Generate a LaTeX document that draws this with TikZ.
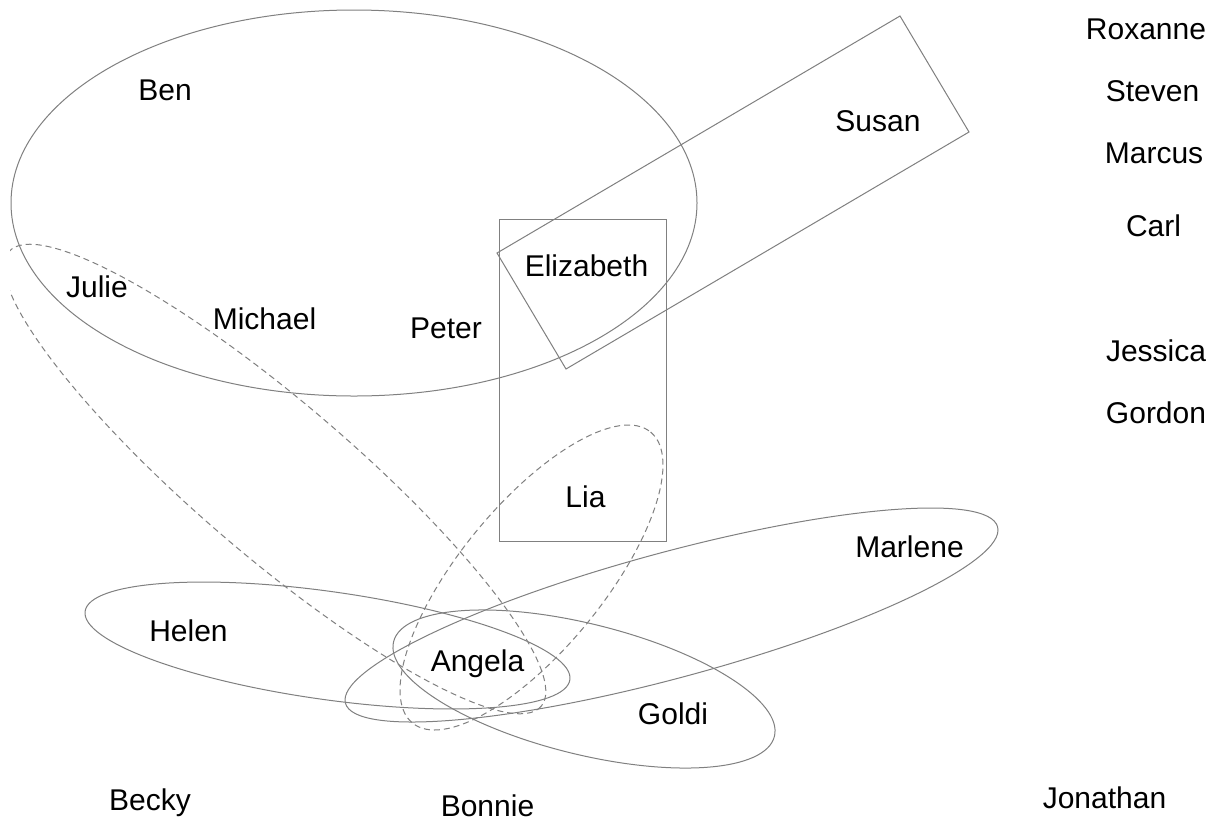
\documentclass[tikz,border=0pt]{standalone}
\usepackage{fontspec}
\setmainfont{Liberation Sans}
\definecolor{linegray}{RGB}{128,128,128}
\begin{document}
\begin{tikzpicture}[x=1pt,y=-1pt,
  lbl/.style={anchor=base,inner sep=0pt,text=black,font=\fontsize{30}{36}\selectfont},
  setline/.style={draw=linegray,line width=1pt},
  dashline/.style={setline,dash pattern=on 6pt off 4pt}]
\useasboundingbox (0,0) rectangle (1222,823);
\fill[white] (0,0) rectangle (1222,823);

% big ellipse (Ben ...)
\draw[setline] (354,203) ellipse [x radius=343, y radius=193];
% rectangle (Elizabeth, Lia)
\draw[setline] (499,219) rectangle (666,541);
% tilted rectangle (Susan)
\draw[setline] (497,253) -- (900,16) -- (969,132) -- (566,369) -- cycle;
% Helen ellipse
\draw[setline, rotate around={-8.03:(327.5,645.5)}] (327.5,645.5) ellipse [x radius=244.8, y radius=54];
% Goldi ellipse
\draw[setline, rotate around={-13.97:(584,689)}] (584,689) ellipse [x radius=196.2, y radius=65.2];
% Marlene ellipse
\draw[setline, rotate around={15.13:(671.5,615)}] (671.5,615) ellipse [x radius=337.8, y radius=62.8];
% Lia dashed ellipse
\draw[dashline, rotate around={50.7:(531.5,577.5)}] (531.5,577.5) ellipse [x radius=188, y radius=72];
% Julie dashed ellipse (clipped at left edge)
\begin{scope}
\clip (10,0) rectangle (1222,823);
\draw[dashline, rotate around={-40.5:(275,479)}] (275,479) ellipse [x radius=350, y radius=77];
\end{scope}

% labels
\node[lbl] (roxanne)   at (1146,39)  {Roxanne};
\node[lbl] (steven)    at (1152.5,101) {Steven};
\node[lbl] (marcus)    at (1154,163) {Marcus};
\node[lbl] (carl)      at (1153.5,236) {Carl};
\node[lbl] (jessica)   at (1156,361) {Jessica};
\node[lbl] (gordon)    at (1156,423) {Gordon};
\node[lbl] (ben)       at (165,100)  {Ben};
\node[lbl] (susan)     at (878,131)  {Susan};
\node[lbl] (elizabeth) at (586.5,276) {Elizabeth};
\node[lbl] (julie)     at (97,297)   {Julie};
\node[lbl] (michael)   at (264.5,329) {Michael};
\node[lbl] (peter)     at (446,338)  {Peter};
\node[lbl] (lia)       at (585.5,507) {Lia};
\node[lbl] (marlene)   at (909.5,557) {Marlene};
\node[lbl] (helen)     at (188.5,641) {Helen};
\node[lbl] (angela)    at (477.5,671) {Angela};
\node[lbl] (goldi)     at (673,724)  {Goldi};
\node[lbl] (becky)     at (150,810)  {Becky};
\node[lbl] (bonnie)    at (487.5,816) {Bonnie};
\node[lbl] (jonathan)  at (1104.5,808) {Jonathan};
\end{tikzpicture}
\end{document}
